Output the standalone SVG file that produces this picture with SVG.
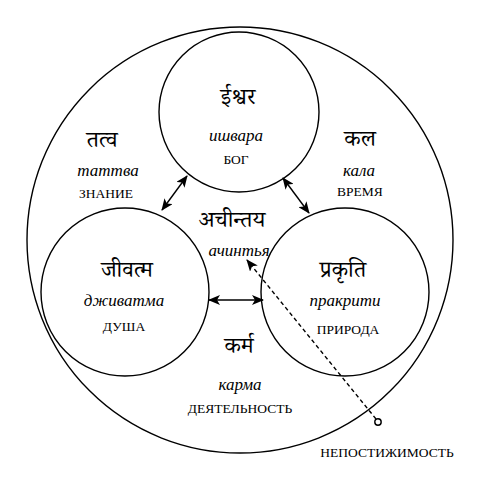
<svg xmlns="http://www.w3.org/2000/svg" width="482" height="482" viewBox="0 0 482 482">
<style>
.c{fill:none;stroke:#000;stroke-width:1.4}
.dev{font-family:"Noto Serif Devanagari","Noto Sans Devanagari","Lohit Devanagari","Mukta",serif;font-size:23px;text-anchor:middle;fill:#000}
.it{font-family:"Liberation Serif",serif;font-style:italic;font-size:17px;text-anchor:middle;fill:#000}
.up{font-family:"Liberation Serif",serif;font-size:13.5px;text-anchor:middle;fill:#000}
.ln{stroke:#000;stroke-width:1.4;fill:none}
</style>
<defs>
<marker id="ah" viewBox="0 0 12 10" refX="11" refY="5" markerWidth="12" markerHeight="10" markerUnits="userSpaceOnUse" orient="auto-start-reverse">
<path d="M0,0 L12,5 L0,10 L3,5 z" fill="#000"/>
</marker>
</defs>
<g id="outer"><circle class="c" cx="240" cy="240" r="213"/></g>
<g id="ishvara">
<circle class="c" cx="239" cy="112" r="80"/>
<text class="dev" x="238" y="104">ईश्वर</text>
<text class="it" x="236" y="141">ишвара</text>
<text class="up" x="236" y="164">БОГ</text>
</g>
<g id="jivatma">
<circle class="c" cx="125" cy="292" r="84"/>
<text class="dev" x="127" y="277">जीवत्म</text>
<text class="it" x="124" y="306">дживатма</text>
<text class="up" x="124" y="331">ДУША</text>
</g>
<g id="prakriti">
<circle class="c" cx="345" cy="292" r="84"/>
<text class="dev" x="343" y="277">प्रकृति</text>
<text class="it" x="345" y="306">пракрити</text>
<text class="up" x="348" y="334">ПРИРОДА</text>
</g>
<g id="tattva">
<text class="dev" x="102" y="147">तत्व</text>
<text class="it" x="108" y="176">таттва</text>
<text class="up" x="106" y="198">ЗНАНИЕ</text>
</g>
<g id="kala">
<text class="dev" x="360" y="146">कल</text>
<text class="it" x="359" y="176">кала</text>
<text class="up" x="360" y="196">ВРЕМЯ</text>
</g>
<g id="achintya">
<text class="dev" x="232" y="227">अचीन्तय</text>
<text class="it" x="239" y="256">ачинтья</text>
</g>
<g id="karma">
<text class="dev" x="239" y="353">कर्म</text>
<text class="it" x="240" y="390">карма</text>
<text class="up" x="240" y="413">ДЕЯТЕЛЬНОСТЬ</text>
</g>
<g id="neposti">
<text class="up" x="387" y="457">НЕПОСТИЖИМОСТЬ</text>
</g>
<g id="connectors">
<line class="ln" x1="162" y1="210" x2="187" y2="176" marker-start="url(#ah)" marker-end="url(#ah)"/>
<line class="ln" x1="283" y1="178" x2="309" y2="213" marker-start="url(#ah)" marker-end="url(#ah)"/>
<line class="ln" x1="209" y1="300" x2="263" y2="300" marker-start="url(#ah)" marker-end="url(#ah)"/>
<line class="ln" x1="376" y1="419" x2="247" y2="260" stroke-dasharray="4,3" marker-end="url(#ah)"/>
<circle cx="378" cy="422" r="3.2" fill="#fff" stroke="#000" stroke-width="1.4"/>
</g>
</svg>
